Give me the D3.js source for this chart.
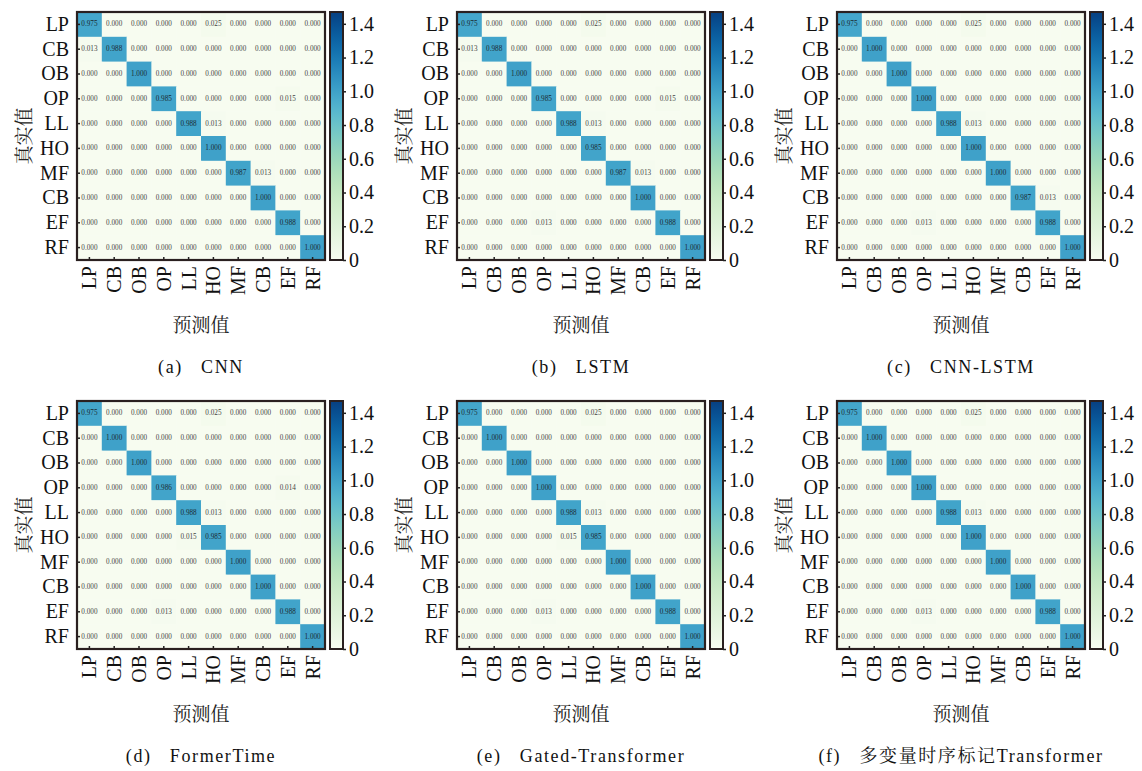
<!DOCTYPE html>
<html><head><meta charset="utf-8">
<script src="https://cdn.jsdelivr.net/npm/d3@7"></script>
<style>body{margin:0;background:#fff}svg{display:block}</style>
</head><body>
<svg id="c" width="1142" height="771"></svg>
<script>
const classes = ["LP","CB","OB","OP","LL","HO","MF","CB","EF","RF"];
const colorTicks = [0,0.2,0.4,0.6,0.8,1.0,1.2,1.4];
const colorMax = 1.47;
const captions = ["(a)   CNN","(b)   LSTM","(c)   CNN-LSTM","(d)   FormerTime","(e)   Gated-Transformer","(f)   多变量时序标记Transformer"];

const cnn = [
 [0.975,0,0,0,0,0.025,0,0,0,0],
 [0.013,0.988,0,0,0,0,0,0,0,0],
 [0,0,1.000,0,0,0,0,0,0,0],
 [0,0,0,0.985,0,0,0,0,0.015,0],
 [0,0,0,0,0.988,0.013,0,0,0,0],
 [0,0,0,0,0,1.000,0,0,0,0],
 [0,0,0,0,0,0,0.987,0.013,0,0],
 [0,0,0,0,0,0,0,1.000,0,0],
 [0,0,0,0,0,0,0,0,0.988,0],
 [0,0,0,0,0,0,0,0,0,1.000]];
const lstm = [
 [0.975,0,0,0,0,0.025,0,0,0,0],
 [0.013,0.988,0,0,0,0,0,0,0,0],
 [0,0,1.000,0,0,0,0,0,0,0],
 [0,0,0,0.985,0,0,0,0,0.015,0],
 [0,0,0,0,0.988,0.013,0,0,0,0],
 [0,0,0,0,0,0.985,0,0,0,0],
 [0,0,0,0,0,0,0.987,0.013,0,0],
 [0,0,0,0,0,0,0,1.000,0,0],
 [0,0,0,0.013,0,0,0,0,0.988,0],
 [0,0,0,0,0,0,0,0,0,1.000]];
const cnnLstm = [
 [0.975,0,0,0,0,0.025,0,0,0,0],
 [0,1.000,0,0,0,0,0,0,0,0],
 [0,0,1.000,0,0,0,0,0,0,0],
 [0,0,0,1.000,0,0,0,0,0,0],
 [0,0,0,0,0.988,0.013,0,0,0,0],
 [0,0,0,0,0,1.000,0,0,0,0],
 [0,0,0,0,0,0,1.000,0,0,0],
 [0,0,0,0,0,0,0,0.987,0.013,0],
 [0,0,0,0.013,0,0,0,0,0.988,0],
 [0,0,0,0,0,0,0,0,0,1.000]];
const formerTime = [
 [0.975,0,0,0,0,0.025,0,0,0,0],
 [0,1.000,0,0,0,0,0,0,0,0],
 [0,0,1.000,0,0,0,0,0,0,0],
 [0,0,0,0.986,0,0,0,0,0.014,0],
 [0,0,0,0,0.988,0.013,0,0,0,0],
 [0,0,0,0,0.015,0.985,0,0,0,0],
 [0,0,0,0,0,0,1.000,0,0,0],
 [0,0,0,0,0,0,0,1.000,0,0],
 [0,0,0,0.013,0,0,0,0,0.988,0],
 [0,0,0,0,0,0,0,0,0,1.000]];
const gatedTransformer = [
 [0.975,0,0,0,0,0.025,0,0,0,0],
 [0,1.000,0,0,0,0,0,0,0,0],
 [0,0,1.000,0,0,0,0,0,0,0],
 [0,0,0,1.000,0,0,0,0,0,0],
 [0,0,0,0,0.988,0.013,0,0,0,0],
 [0,0,0,0,0.015,0.985,0,0,0,0],
 [0,0,0,0,0,0,1.000,0,0,0],
 [0,0,0,0,0,0,0,1.000,0,0],
 [0,0,0,0.013,0,0,0,0,0.988,0],
 [0,0,0,0,0,0,0,0,0,1.000]];
const multiTransformer = [
 [0.975,0,0,0,0,0.025,0,0,0,0],
 [0,1.000,0,0,0,0,0,0,0,0],
 [0,0,1.000,0,0,0,0,0,0,0],
 [0,0,0,1.000,0,0,0,0,0,0],
 [0,0,0,0,0.988,0.013,0,0,0,0],
 [0,0,0,0,0,1.000,0,0,0,0],
 [0,0,0,0,0,0,1.000,0,0,0],
 [0,0,0,0,0,0,0,1.000,0,0],
 [0,0,0,0.013,0,0,0,0,0.988,0],
 [0,0,0,0,0,0,0,0,0,1.000]];

const matrices = [cnn, lstm, cnnLstm, formerTime, gatedTransformer, multiTransformer];

const svg = d3.select("#c");
const serif = "'Liberation Serif','Times New Roman',serif";
const cjk = "'Liberation Serif','Noto Serif CJK SC','Noto Sans CJK SC',serif";
const size = 248;
const color = d3.scaleSequential(d3.interpolateGnBu).domain([0, colorMax]);
const idx = d3.range(classes.length);

const defs = svg.append("defs");
const grad = defs.append("linearGradient").attr("id","cbg").attr("x1",0).attr("y1",1).attr("x2",0).attr("y2",0);
d3.range(0,1.0001,0.05).forEach(t=>grad.append("stop").attr("offset",t).attr("stop-color",d3.interpolateGnBu(t)));

matrices.forEach((m, k) => {
  const col = k % 3, row = Math.floor(k / 3);
  const ox = 77 + 380*col, oy = 12 + 389*row;
  const g = svg.append("g").attr("transform",`translate(${ox},${oy})`);
  const x = d3.scaleBand().domain(idx).range([0,size]);
  const y = d3.scaleBand().domain(idx).range([0,size]);

  const cells = [];
  m.forEach((r,i)=>r.forEach((v,j)=>cells.push({i,j,v})));
  g.selectAll("rect.cell").data(cells).join("rect").attr("class","cell")
    .attr("x",d=>x(d.j)).attr("y",d=>y(d.i))
    .attr("width",x.bandwidth()+0.5).attr("height",y.bandwidth()+0.5)
    .attr("fill",d=>color(d.v));
  g.selectAll("text.val").data(cells).join("text").attr("class","val")
    .attr("x",d=>x(d.j)+x.bandwidth()/2).attr("y",d=>y(d.i)+y.bandwidth()/2)
    .attr("text-anchor","middle").attr("dominant-baseline","central")
    .attr("font-family",serif).attr("font-size",7.2)
    .attr("fill",d=>d.v>0.5?"#1a2a33":"#444")
    .text(d=>d.v.toFixed(3));

  // axes
  const ax = g.append("g").attr("transform",`translate(0,${size})`)
    .call(d3.axisBottom(x).tickSizeInner(-3).tickSizeOuter(0).tickPadding(6).tickFormat(i=>classes[i]));
  ax.select(".domain").remove();
  ax.selectAll("line").attr("stroke","#222").attr("stroke-width",1.5);
  ax.selectAll("text").attr("font-family",serif).attr("font-size",20).attr("fill","#111")
    .attr("transform","rotate(-90)").attr("text-anchor","end").attr("dy","0.35em").attr("x",-6).attr("y",0);

  const ay = g.append("g")
    .call(d3.axisLeft(y).tickSizeInner(-3).tickSizeOuter(0).tickPadding(8).tickFormat(i=>classes[i]));
  ay.select(".domain").remove();
  ay.selectAll("line").attr("stroke","#222").attr("stroke-width",1.5);
  ay.selectAll("text").attr("font-family",serif).attr("font-size",20).attr("fill","#111");

  g.append("rect").attr("x",0).attr("y",0).attr("width",size).attr("height",size)
    .attr("fill","none").attr("stroke","#2a2020").attr("stroke-width",2.2);

  // axis titles
  g.append("text").attr("x",size/2).attr("y",size+72).attr("text-anchor","middle")
    .attr("font-family",cjk).attr("font-size",19).attr("fill","#222").text("预测值");
  g.append("text").attr("transform",`translate(${-46},${size/2}) rotate(-90)`).attr("text-anchor","middle")
    .attr("font-family",cjk).attr("font-size",19).attr("fill","#222").text("真实值");

  // caption
  g.append("text").attr("x",size/2).attr("y",size+113).attr("text-anchor","middle")
    .attr("font-family",cjk).attr("font-size",18).attr("fill","#111")
    .attr("letter-spacing","1.6px").style("white-space","pre").text(captions[k]);

  // colorbar
  const cb = g.append("g").attr("transform",`translate(${size+5},0)`);
  const cs = d3.scaleLinear().domain([0,colorMax]).range([size,0]);
  cb.append("rect").attr("width",13).attr("height",size).attr("fill","url(#cbg)");
  cb.append("rect").attr("width",13).attr("height",size).attr("fill","none")
    .attr("stroke","#2a2020").attr("stroke-width",2);
  const ca = cb.append("g").attr("transform","translate(13,0)")
    .call(d3.axisRight(cs).tickValues(colorTicks).tickSize(3).tickPadding(3)
      .tickFormat(v=>v===0?"0":d3.format(".1f")(v)));
  ca.select(".domain").remove();
  ca.selectAll("line").attr("stroke","#222").attr("stroke-width",1.5);
  ca.selectAll("text").attr("font-family",serif).attr("font-size",20).attr("fill","#111");
});
</script>
</body></html>
